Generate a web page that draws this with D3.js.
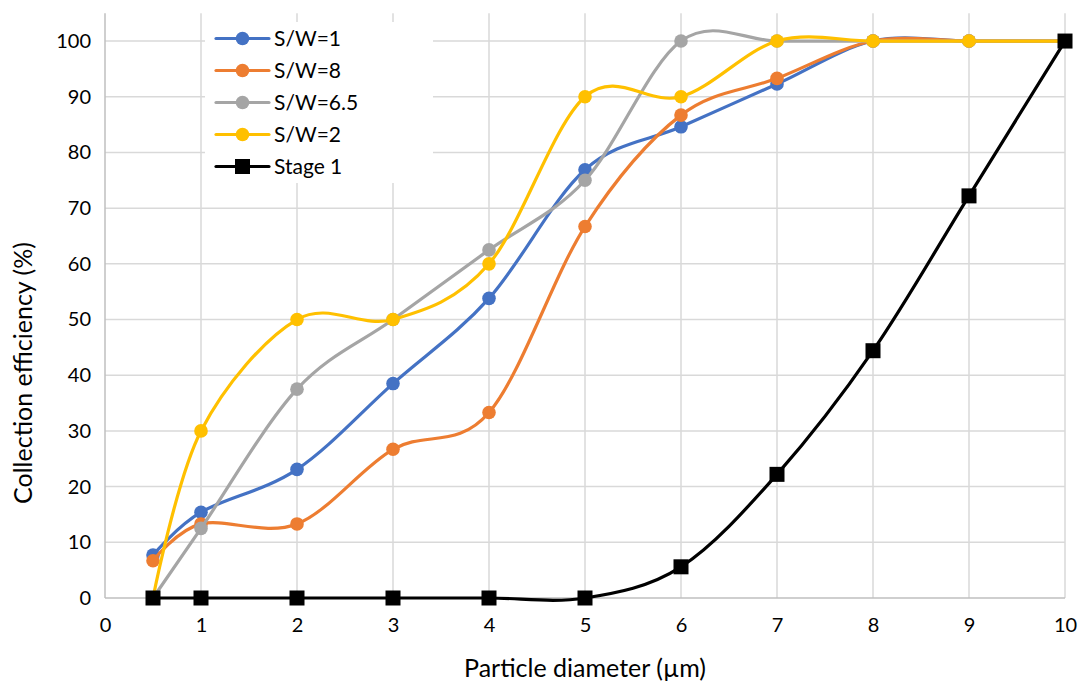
<!DOCTYPE html>
<html>
<head>
<meta charset="utf-8">
<script src="https://cdn.jsdelivr.net/npm/d3@7/dist/d3.min.js"></script>
<style>
  html, body { margin: 0; padding: 0; background: #ffffff; }
  svg { display: block; font-family: Lato, "Open Sans", sans-serif; }
</style>
</head>
<body>
<svg id="chart" width="1082" height="682"></svg>
<script>
// Particle diameters (µm)
const diameters = [0.5, 1, 2, 3, 4, 5, 6, 7, 8, 9, 10];

// Collection efficiency (%) for each configuration
const sw1   = [7.7, 15.4, 23.1, 38.5, 53.8, 76.9, 84.6, 92.3, 100, 100, 100];
const sw8   = [6.7, 13.3, 13.3, 26.7, 33.3, 66.7, 86.7, 93.3, 100, 100, 100];
const sw65  = [0, 12.5, 37.5, 50, 62.5, 75, 100, 100, 100, 100, 100];
const sw2   = [0, 30, 50, 50, 60, 90, 90, 100, 100, 100, 100];
const stage1 = [0, 0, 0, 0, 0, 0, 5.6, 22.2, 44.4, 72.2, 100];

const seriesNames = ["S/W=1", "S/W=8", "S/W=6.5", "S/W=2", "Stage 1"];
const seriesValues = [sw1, sw8, sw65, sw2, stage1];
const seriesColors = ["#4472C4", "#ED7D31", "#A5A5A5", "#FFC000", "#000000"];
const seriesMarkers = ["circle", "circle", "circle", "circle", "square"];

const xTicks = [0, 1, 2, 3, 4, 5, 6, 7, 8, 9, 10];
const yTicks = [0, 10, 20, 30, 40, 50, 60, 70, 80, 90, 100];

const svg = d3.select("#chart");
const plotLeft = 105, plotRight = 1065, plotBottom = 598, plotTop = 13.2;

const x = d3.scaleLinear().domain([0, 10]).range([plotLeft, plotRight]);
const y = d3.scaleLinear().domain([0, 105]).range([plotBottom, plotTop]);

// Gridlines
const grid = svg.append("g");
grid.selectAll("line.v").data(xTicks.filter(d => d > 0)).join("line")
  .attr("class", "v")
  .attr("x1", d => x(d)).attr("x2", d => x(d))
  .attr("y1", plotTop).attr("y2", plotBottom)
  .attr("stroke", "#d9d9d9").attr("stroke-width", 1.5);
grid.selectAll("line.h").data(yTicks.filter(d => d > 0)).join("line")
  .attr("class", "h")
  .attr("x1", plotLeft).attr("x2", plotRight)
  .attr("y1", d => y(d)).attr("y2", d => y(d))
  .attr("stroke", "#d9d9d9").attr("stroke-width", 1.5);

// Axis lines
svg.append("line").attr("x1", plotLeft).attr("x2", plotLeft).attr("y1", plotTop).attr("y2", plotBottom)
  .attr("stroke", "#bfbfbf").attr("stroke-width", 1.5);
svg.append("line").attr("x1", plotLeft).attr("x2", plotRight).attr("y1", plotBottom).attr("y2", plotBottom)
  .attr("stroke", "#bfbfbf").attr("stroke-width", 1.5);

// Tick labels via d3 axes (tick marks hidden)
const xAxis = svg.append("g").attr("transform", `translate(0,${plotBottom})`)
  .call(d3.axisBottom(x).tickValues(xTicks).tickSize(0).tickPadding(20).tickFormat(d3.format("d")));
const yAxis = svg.append("g").attr("transform", `translate(${plotLeft},0)`)
  .call(d3.axisLeft(y).tickValues(yTicks).tickSize(0).tickPadding(14).tickFormat(d3.format("d")));
[xAxis, yAxis].forEach(a => {
  a.select(".domain").remove();
  a.selectAll("text").attr("font-size", 20).attr("fill", "#000")
    .attr("font-family", "Lato, 'Open Sans', sans-serif");
});

// Axis titles
svg.append("text").attr("x", 585).attr("y", 677)
  .attr("text-anchor", "middle").attr("font-size", 25).text("Particle diameter (µm)");
svg.append("text").attr("transform", "translate(32,373) rotate(-90)")
  .attr("text-anchor", "middle").attr("font-size", 25).text("Collection efficiency (%)");

// Smoothed series lines with markers
const line = d3.line().x(d => x(d[0])).y(d => y(d[1])).curve(d3.curveCardinal.tension(0));
const plot = svg.append("g");

function drawMarker(g, type, cx, cy, color) {
  if (type === "square") {
    g.append("rect").attr("x", cx - 7.5).attr("y", cy - 7.5)
      .attr("width", 15).attr("height", 15).attr("fill", color);
  } else {
    g.append("circle").attr("cx", cx).attr("cy", cy).attr("r", 6.8).attr("fill", color);
  }
}

seriesValues.forEach((vals, i) => {
  const pts = diameters.map((d, j) => [d, vals[j]]);
  const g = plot.append("g");
  g.append("path").attr("d", line(pts)).attr("fill", "none")
    .attr("stroke", seriesColors[i]).attr("stroke-width", 3.2)
    .attr("stroke-linejoin", "round").attr("stroke-linecap", "round");
  pts.forEach(p => drawMarker(g, seriesMarkers[i], x(p[0]), y(p[1]), seriesColors[i]));
});

// Legend
const legend = svg.append("g");
legend.append("rect").attr("x", 205).attr("y", 22).attr("width", 228).attr("height", 161).attr("fill", "#fff");
seriesNames.forEach((name, i) => {
  const ly = 38.5 + i * 32;
  legend.append("line").attr("x1", 216).attr("x2", 269).attr("y1", ly).attr("y2", ly)
    .attr("stroke", seriesColors[i]).attr("stroke-width", 3.2).attr("stroke-linecap", "round");
  drawMarker(legend, seriesMarkers[i], 242.5, ly, seriesColors[i]);
  legend.append("text").attr("x", 274).attr("y", ly + 7.5).attr("font-size", 21).text(name);
});
</script>
</body>
</html>
